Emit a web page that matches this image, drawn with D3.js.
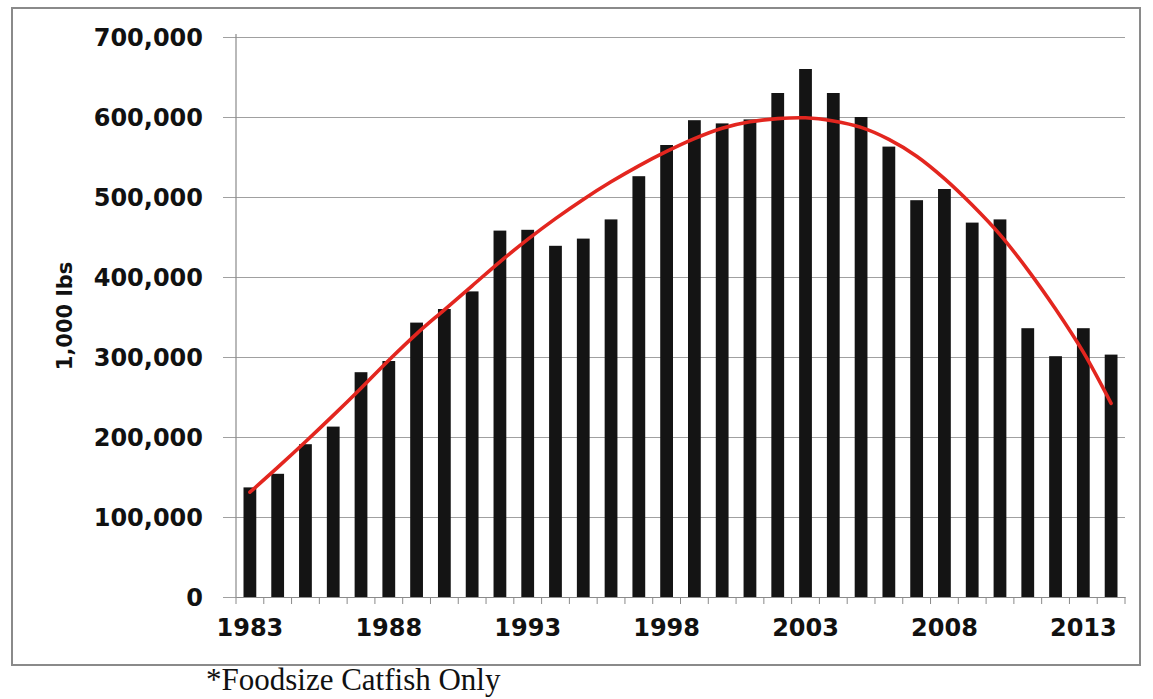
<!DOCTYPE html>
<html>
<head>
<meta charset="utf-8">
<script src="https://cdn.jsdelivr.net/npm/d3@7/dist/d3.min.js"></script>
<style>
  html, body { margin: 0; padding: 0; background: #fff; }
  svg { display: block; }
</style>
</head>
<body>
<svg id="chart" width="1153" height="699"></svg>
<script>
// ---- data ----
const years = d3.range(1983, 2015);
const production = [
  137000, 154000, 191000, 213000, 281000, 295000, 343000, 360000,
  382000, 458000, 459000, 439000, 448000, 472000, 526000, 565000,
  596000, 592000, 597000, 630000, 660000, 630000, 600000, 563000,
  496000, 510000, 468000, 472000, 336000, 301000, 336000, 303000
];
const trend = [
  131000, 162000, 194000, 227000, 261000, 296000, 329000, 359000,
  389000, 419000, 447000, 473000, 497000, 519000, 539000, 557000,
  573000, 586000, 594000, 598000, 599000, 595000, 587000, 572000,
  551000, 523000, 490000, 453000, 409000, 360000, 306000, 242000
];
const yTicks = [0, 100000, 200000, 300000, 400000, 500000, 600000, 700000];
const xTickYears = [1983, 1988, 1993, 1998, 2003, 2008, 2013];
const yTitle = "1,000 lbs";
const footnote = "*Foodsize Catfish Only";

// ---- layout ----
const svg = d3.select("#chart");
const plotLeft = 236, plotRight = 1125, plotTop = 37, plotBottom = 597;

const x = d3.scaleBand().domain(years).range([plotLeft, plotRight])
  .paddingInner(0.54).paddingOuter(0.27);
const y = d3.scaleLinear().domain([0, 700000]).range([plotBottom, plotTop]);
const step = x.step();

// outer frame
svg.append("rect").attr("x", 12).attr("y", 8).attr("width", 1128).attr("height", 657)
  .attr("fill", "none").attr("stroke", "#8a8a8a").attr("stroke-width", 2);

// gridlines + y tick labels
const yAxis = d3.axisLeft(y).tickValues(yTicks)
  .tickSize(-(plotRight - plotLeft)).tickSizeOuter(0)
  .tickFormat(d3.format(","));
const gy = svg.append("g").attr("transform", `translate(${plotLeft},0)`).call(yAxis);
gy.select(".domain").remove();
gy.selectAll(".tick line").attr("stroke", "#a0a0a0").attr("stroke-width", 1.2)
  .attr("x1", -13);
gy.selectAll(".tick text")
  .attr("x", -33).attr("dy", "0.36em")
  .attr("font-family", "DejaVu Sans, sans-serif").attr("font-weight", "bold")
  .attr("font-size", 24).attr("fill", "#111");

// y axis line
svg.append("line").attr("x1", plotLeft).attr("x2", plotLeft).attr("y1", plotTop - 3).attr("y2", plotBottom)
  .attr("stroke", "#8a8a8a").attr("stroke-width", 1.2);

// bars
svg.append("g").selectAll("rect").data(years).join("rect")
  .attr("x", d => x(d))
  .attr("width", x.bandwidth())
  .attr("y", (d, i) => y(production[i]))
  .attr("height", (d, i) => y(0) - y(production[i]))
  .attr("fill", "#141414");

// x axis with category boundary ticks
const xAxis = d3.axisBottom(x).tickValues(xTickYears).tickSize(0).tickPadding(22).tickSizeOuter(0);
const gx = svg.append("g").attr("transform", `translate(0,${plotBottom})`).call(xAxis);
gx.select(".domain").attr("stroke", "#8a8a8a").attr("stroke-width", 1.2);
gx.selectAll(".tick text")
  .attr("font-family", "DejaVu Sans, sans-serif").attr("font-weight", "bold")
  .attr("font-size", 24).attr("fill", "#111");
gx.append("g").selectAll("line").data(d3.range(years.length + 1)).join("line")
  .attr("x1", i => plotLeft + i * step).attr("x2", i => plotLeft + i * step)
  .attr("y1", 0).attr("y2", 7)
  .attr("stroke", "#8a8a8a").attr("stroke-width", 1);

// trend line
const line = d3.line()
  .x((d, i) => x(years[i]) + x.bandwidth() / 2)
  .y(d => y(d))
  .curve(d3.curveCatmullRom.alpha(0.5));
svg.append("path").datum(trend).attr("d", line)
  .attr("fill", "none").attr("stroke", "#e3261f").attr("stroke-width", 3.6)
  .attr("stroke-linecap", "round");

// y title
svg.append("text").attr("transform", "translate(72,316) rotate(-90)")
  .attr("text-anchor", "middle")
  .attr("font-family", "DejaVu Sans, sans-serif").attr("font-weight", "bold")
  .attr("font-size", 21).attr("fill", "#111").text(yTitle);

// footnote
svg.append("text").attr("x", 206).attr("y", 690)
  .attr("font-family", "Liberation Serif, Times New Roman, serif")
  .attr("font-size", 31).attr("fill", "#111").text(footnote);
</script>
</body>
</html>
